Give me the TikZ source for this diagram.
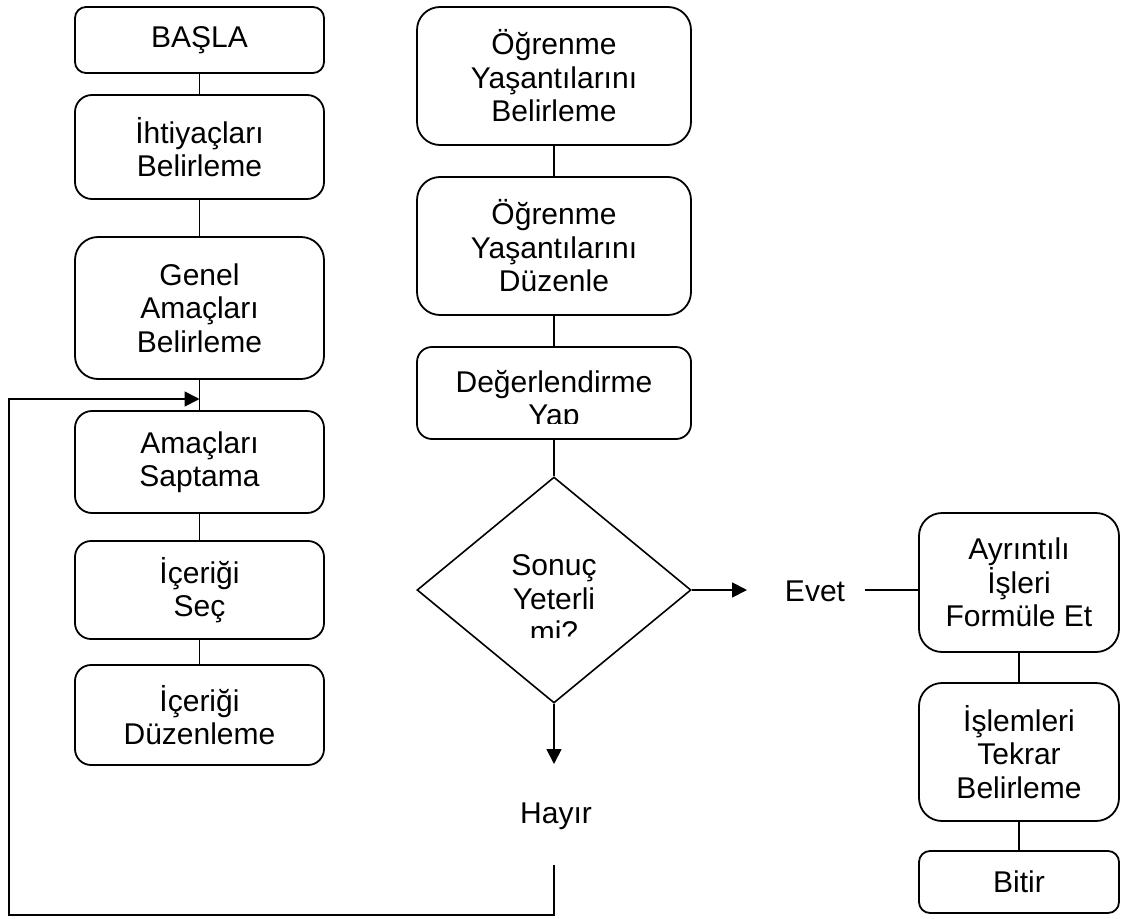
\documentclass[tikz,border=0pt]{standalone}
\usepackage{fontspec}
\setmainfont{Liberation Sans}
\usetikzlibrary{shapes.geometric,arrows.meta}
\begin{document}
\begin{tikzpicture}[x=1pt,y=-1pt,
  every node/.style={font=\fontsize{30}{33.5}\selectfont, align=center, text=black},
  box/.style={draw, line width=1.8pt, inner sep=0pt, rounded corners=#1},
  box/.default=15pt,
  ln/.style={line width=1.8pt},
  arr/.style={line width=1.8pt, -{Triangle[length=15pt,width=15pt]}},
]
\useasboundingbox (0,0) rectangle (1121,918);

% left column
\node[box=11pt, minimum width=249pt, minimum height=66pt]  (basla) at (199.5,40)  {BAŞLA};
\node[box=17pt, minimum width=249pt, minimum height=104pt] (iht)   at (199.5,147) {İhtiyaçları\\Belirleme};
\node[box=23pt, minimum width=249pt, minimum height=142pt] (gen)   at (199.5,308) {Genel\\Amaçları\\Belirleme};
\node[box=17pt, minimum width=249pt, minimum height=102pt] (amac)  at (199.5,462) {Amaçları\\Saptama};
\node[box=16pt, minimum width=249pt, minimum height=98pt]  (icsec) at (199.5,590) {İçeriği\\Seç};
\node[box=16pt, minimum width=249pt, minimum height=100pt] (icduz) at (199.5,715) {İçeriği\\Düzenleme};

% middle column
\node[box=23pt, minimum width=274pt, minimum height=138pt] (og1) at (554,76)  {Öğrenme\\Yaşantılarını\\Belirleme};
\node[box=23pt, minimum width=274pt, minimum height=138pt] (og2) at (554,246) {Öğrenme\\Yaşantılarını\\Düzenle};
\node[box=15pt, minimum width=274pt, minimum height=92pt]  (deg) at (554,393) {};
\begin{scope}
  \clip (417,347) rectangle (691,423);
  \node (degtext) at (554,401) {Değerlendirme\\Yap};
\end{scope}

\node[draw, diamond, line width=1.6pt, inner sep=0pt,
      minimum width=274pt, minimum height=226pt] (dia) at (554,590) {};
\begin{scope}
  \clip (417,477) rectangle (691,637);
  \node (diatext) at (554,599) {Sonuç\\Yeterli\\mi?};
\end{scope}

\node (evet)  at (815,591) {Evet};
\node (hayir) at (556,816) {Hayır};

% right column
\node[box=23pt, minimum width=200pt, minimum height=139pt] (ayr)   at (1019,582.5) {Ayrıntılı\\İşleri\\Formüle Et};
\node[box=23pt, minimum width=200pt, minimum height=138pt] (isl)   at (1019,752)   {İşlemleri\\Tekrar\\Belirleme};
\node[box=11pt, minimum width=200pt, minimum height=62pt]  (bitir) at (1019,882)   {Bitir};

% free ends of connectors
\coordinate (notip)     at (554,764);
\coordinate (yestip)    at (747,590);
\coordinate (evetout)   at (865,590);
\coordinate (loopstart) at (554,865);
\coordinate (loopend)   at (199.5,399);

% connectors
\draw[ln] (basla.south) -- (iht.north);
\draw[ln] (iht.south) -- (gen.north);
\draw[ln] (gen.south) -- (amac.north);
\draw[ln] (amac.south) -- (icsec.north);
\draw[ln] (icsec.south) -- (icduz.north);

\draw[ln] (og1.south) -- (og2.north);
\draw[ln] (og2.south) -- (deg.north);
\draw[ln] (deg.south) -- (dia.north);

\draw[arr] (dia.south) -- (notip);
\draw[arr] (dia.east) -- (yestip);
\draw[ln] (evetout) -- (evetout -| ayr.west);

\draw[ln] (ayr.south) -- (isl.north);
\draw[ln] (isl.south) -- (bitir.north);

\draw[arr] (loopstart) -- (554,915) -| (9,399) -- (loopend);
\end{tikzpicture}
\end{document}
